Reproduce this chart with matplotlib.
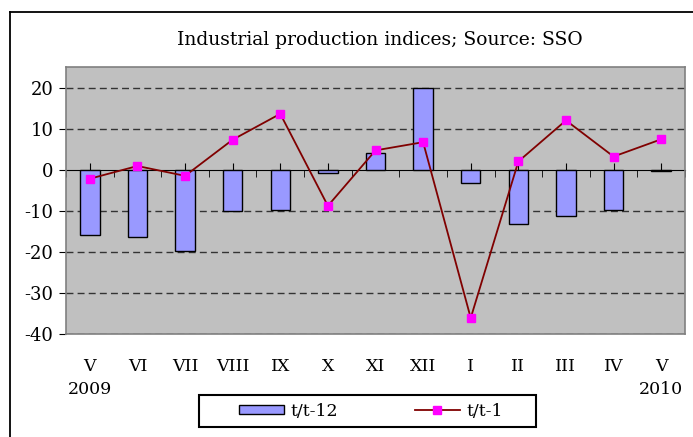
import matplotlib
matplotlib.use('Agg')
import matplotlib.pyplot as plt
import numpy as np
from matplotlib.lines import Line2D
from matplotlib.patches import Rectangle

plt.rcParams['font.family'] = ['DejaVu Serif']
plt.rcParams['axes.unicode_minus'] = False

# data
months = ['V', 'VI', 'VII', 'VIII', 'IX', 'X', 'XI', 'XII', 'I', 'II', 'III', 'IV', 'V']
years = ['2009', '', '', '', '', '', '', '', '', '', '', '', '2010']
yoy = [-15.8, -16.3, -19.8, -10.1, -9.8, -0.8, 4.1, 19.9, -3.2, -13.2, -11.3, -9.8, -0.4]   # t/t-12
mom = [-2.2, 0.9, -1.5, 7.3, 13.6, -8.8, 4.7, 6.7, -36.1, 2.0, 12.0, 3.2, 7.4]             # t/t-1
yticks = [-40, -30, -20, -10, 0, 10, 20]

fig = plt.figure(figsize=(6.93, 4.37), dpi=100)
ax = fig.add_axes([66/693, 1 - 334/437, 619/693, 267/437])
ax.set_facecolor('#C0C0C0')

x = np.arange(len(months))
bars = ax.bar(x, yoy, width=0.41, color='#9999FF', edgecolor='black', linewidth=1.0,
              label='t/t-12', zorder=3)
line, = ax.plot(x, mom, color='#800000', linewidth=1.3, marker='s', markersize=6,
                markerfacecolor='#FF00FF', markeredgecolor='#FF00FF', label='t/t-1', zorder=4)

ax.set_xlim(-0.5, len(months) - 0.5)
ax.set_ylim(-40, 25)
ax.set_yticks(yticks)
for v in yticks:
    if v != 0:
        ax.axhline(v, color='#333333', linestyle=(0, (5, 3)), linewidth=1.0, zorder=1)

for s in ax.spines.values():
    s.set_color('#808080')
    s.set_linewidth(1.2)
ax.tick_params(axis='y', direction='out', length=5, color='black', labelsize=13, pad=4)

# category labels below the plot area
ax.set_xticks(x)
ax.set_xticklabels([m + ('\n' + y if y else '') for m, y in zip(months, years)],
                   fontsize=12.5, linespacing=1.5)
ax.tick_params(axis='x', length=0, pad=17)

# axis line through zero with cross ticks
zero_pos = (0 - (-40)) / (25 - (-40))
sec = ax.secondary_xaxis(zero_pos)
sec.spines['bottom'].set_color('black')
sec.spines['bottom'].set_linewidth(1.0)
sec.set_xticks(x)
sec.set_xticks(np.arange(len(months) + 1) - 0.5, minor=True)
sec.tick_params(which='major', direction='out', length=5, labelbottom=False, color='black')
sec.tick_params(which='minor', direction='in', length=5, color='black')
sec.set_xticklabels([])

fig.text(380/693, 1 - 40/437, 'Industrial production indices; Source: SSO',
         ha='center', va='center', fontsize=13.5)

# legend (frame drawn separately so it can be wider than its content)
fig.legend([bars, line], ['t/t-12', 't/t-1'], loc='center',
           bbox_to_anchor=(371/693, 1 - 411/437), ncol=2,
           fontsize=12.5, frameon=False,
           handlelength=2.6, handleheight=0.45, columnspacing=4.4,
           handletextpad=0.4)
fig.add_artist(Rectangle((199/693, 1 - 427/437), 337/693, 32/437, transform=fig.transFigure,
                         facecolor='none', edgecolor='black', linewidth=1.5))

# chart outer frame (clipped at right and bottom)
fig.add_artist(Line2D([10/693, 10/693], [0, 1 - 12/437], color='black', linewidth=1.3,
                      transform=fig.transFigure))
fig.add_artist(Line2D([10/693, 1], [1 - 12/437, 1 - 12/437], color='black', linewidth=1.3,
                      transform=fig.transFigure))

fig.savefig('out.png', dpi=100)
